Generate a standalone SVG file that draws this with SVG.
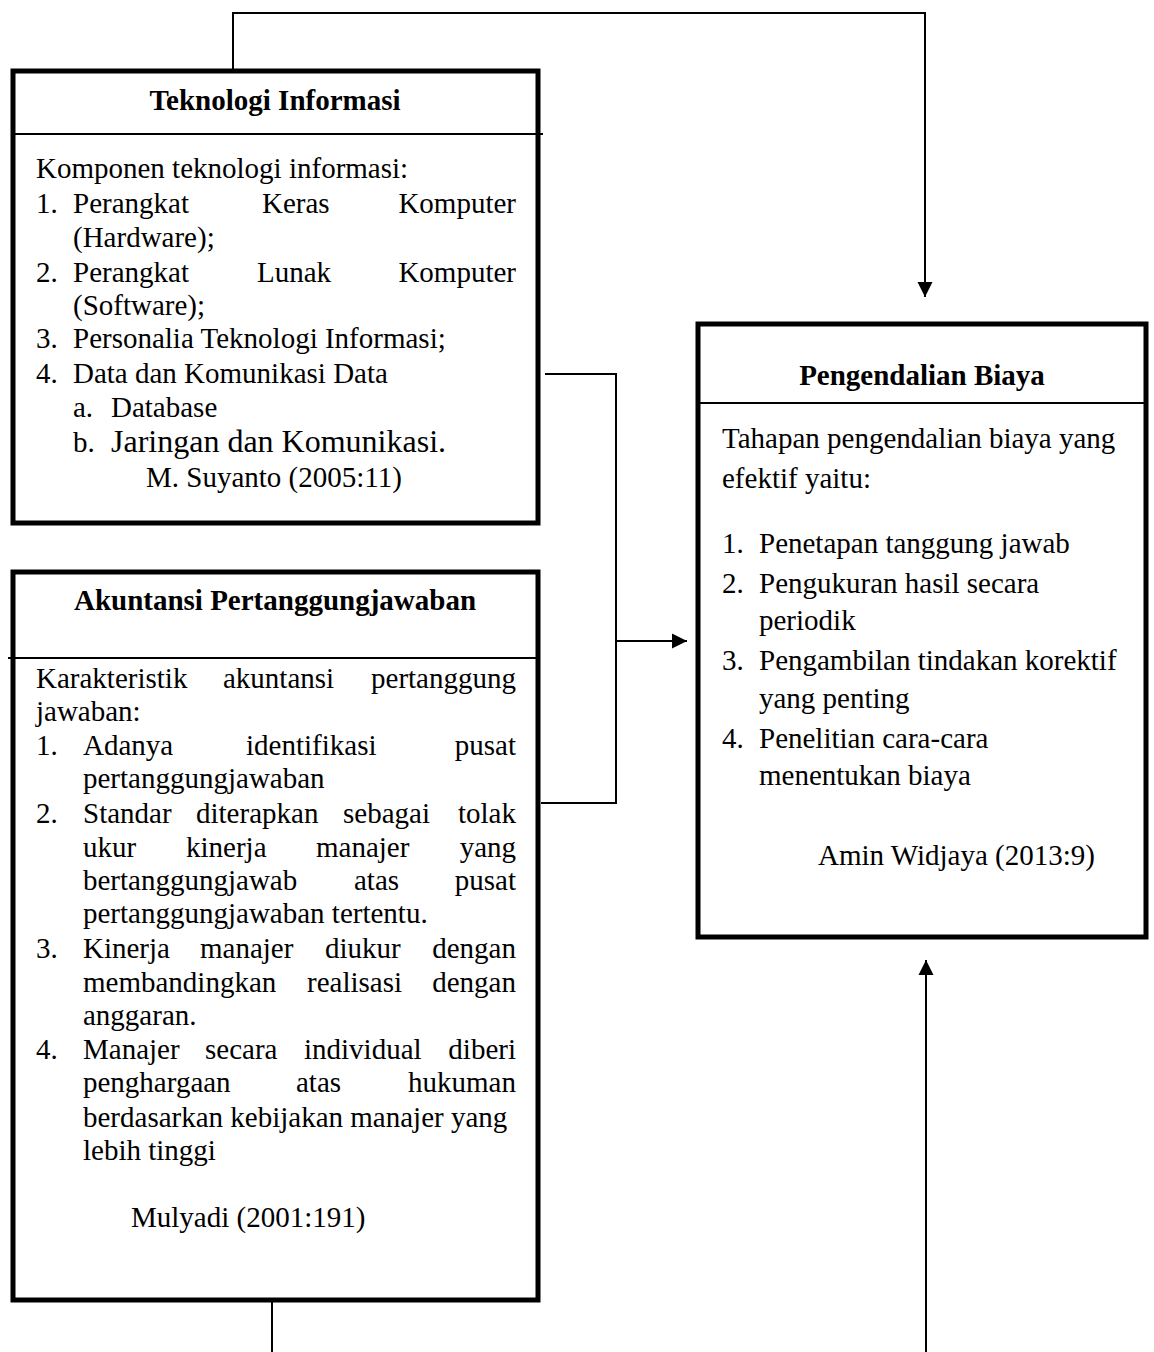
<svg xmlns="http://www.w3.org/2000/svg" width="1154" height="1352" viewBox="0 0 1154 1352">
<style>
.box{fill:#fff;stroke:#000;stroke-width:5}
.div{stroke:#000;stroke-width:2;fill:none}
.con{stroke:#000;stroke-width:2;fill:none}
text{font-family:"Liberation Serif","Times New Roman",serif;font-size:29px;fill:#000}
.t{font-weight:bold;text-anchor:middle}
.e{text-anchor:end}
</style>
<defs>
<marker id="arr" viewBox="0 0 10 10" refX="10" refY="5" markerWidth="15" markerHeight="16" markerUnits="userSpaceOnUse" orient="auto">
<path d="M0,0 L10,5 L0,10 z" fill="#000"/>
</marker>
</defs>
<rect width="1154" height="1352" fill="#fff"/>

<g id="connectors">
<path class="con" d="M233,72 V13 H925 V297" marker-end="url(#arr)"/>
<path class="con" d="M545,374 H616 V803 H541"/>
<path class="con" d="M616,641 H687" marker-end="url(#arr)"/>
<path class="con" d="M272,1300 V1352"/>
<path class="con" d="M926,1352 V960" marker-end="url(#arr)"/>
</g>

<g id="node-teknologi">
<rect class="box" x="13" y="71" width="525" height="452"/>
<line class="div" x1="13" y1="134" x2="543" y2="134"/>
<text class="t" x="275" y="110">Teknologi Informasi</text>
<text x="36" y="178">Komponen teknologi informasi:</text>
<text x="36" y="213">1.</text><text x="73" y="213">Perangkat</text><text x="262" y="213">Keras</text><text class="e" x="516" y="213">Komputer</text>
<text x="73" y="247">(Hardware);</text>
<text x="36" y="282">2.</text><text x="73" y="282">Perangkat</text><text x="257" y="282">Lunak</text><text class="e" x="516" y="282">Komputer</text>
<text x="73" y="315">(Software);</text>
<text x="36" y="348">3.</text><text x="73" y="348">Personalia Teknologi Informasi;</text>
<text x="36" y="383">4.</text><text x="73" y="383">Data dan Komunikasi Data</text>
<text x="73" y="417">a.</text><text x="111" y="417">Database</text>
<text x="73" y="452">b.</text><text x="111" y="452" style="font-size:32px">Jaringan dan Komunikasi.</text>
<text x="146" y="487">M. Suyanto (2005:11)</text>
</g>

<g id="node-akuntansi">
<rect class="box" x="13" y="572" width="525" height="728"/>
<line class="div" x1="8" y1="658" x2="538" y2="658"/>
<text class="t" x="275" y="610">Akuntansi Pertanggungjawaban</text>
<text x="36" y="688">Karakteristik</text><text x="223" y="688">akuntansi</text><text class="e" x="516" y="688">pertanggung</text>
<text x="36" y="721">jawaban:</text>
<text x="36" y="755">1.</text><text x="83" y="755">Adanya</text><text x="246" y="755">identifikasi</text><text class="e" x="516" y="755">pusat</text>
<text x="83" y="788">pertanggungjawaban</text>
<text x="36" y="823">2.</text><text x="83" y="823">Standar</text><text x="196" y="823">diterapkan</text><text x="343" y="823">sebagai</text><text class="e" x="516" y="823">tolak</text>
<text x="83" y="857">ukur</text><text x="186" y="857">kinerja</text><text x="316" y="857">manajer</text><text class="e" x="516" y="857">yang</text>
<text x="83" y="890">bertanggungjawab</text><text x="354" y="890">atas</text><text class="e" x="516" y="890">pusat</text>
<text x="83" y="923">pertanggungjawaban tertentu.</text>
<text x="36" y="958">3.</text><text x="83" y="958">Kinerja</text><text x="200" y="958">manajer</text><text x="325" y="958">diukur</text><text class="e" x="516" y="958">dengan</text>
<text x="83" y="992">membandingkan</text><text x="307" y="992">realisasi</text><text class="e" x="516" y="992">dengan</text>
<text x="83" y="1025">anggaran.</text>
<text x="36" y="1059">4.</text><text x="83" y="1059">Manajer</text><text x="205" y="1059">secara</text><text x="304" y="1059">individual</text><text class="e" x="516" y="1059">diberi</text>
<text x="83" y="1092">penghargaan</text><text x="296" y="1092">atas</text><text class="e" x="516" y="1092">hukuman</text>
<text x="83" y="1127">berdasarkan kebijakan manajer yang</text>
<text x="83" y="1160">lebih tinggi</text>
<text x="131" y="1227">Mulyadi (2001:191)</text>
</g>

<g id="node-pengendalian">
<rect class="box" x="698" y="324" width="448" height="613"/>
<line class="div" x1="698" y1="403" x2="1146" y2="403"/>
<text class="t" x="922" y="385">Pengendalian Biaya</text>
<text x="722" y="448">Tahapan pengendalian biaya yang</text>
<text x="722" y="488">efektif yaitu:</text>
<text x="722" y="553">1.</text><text x="759" y="553">Penetapan tanggung jawab</text>
<text x="722" y="593">2.</text><text x="759" y="593">Pengukuran hasil secara</text>
<text x="759" y="630">periodik</text>
<text x="722" y="670">3.</text><text x="759" y="670">Pengambilan tindakan korektif</text>
<text x="759" y="708">yang penting</text>
<text x="722" y="748">4.</text><text x="759" y="748">Penelitian cara-cara</text>
<text x="759" y="785">menentukan biaya</text>
<text x="818" y="865">Amin Widjaya (2013:9)</text>
</g>
</svg>
